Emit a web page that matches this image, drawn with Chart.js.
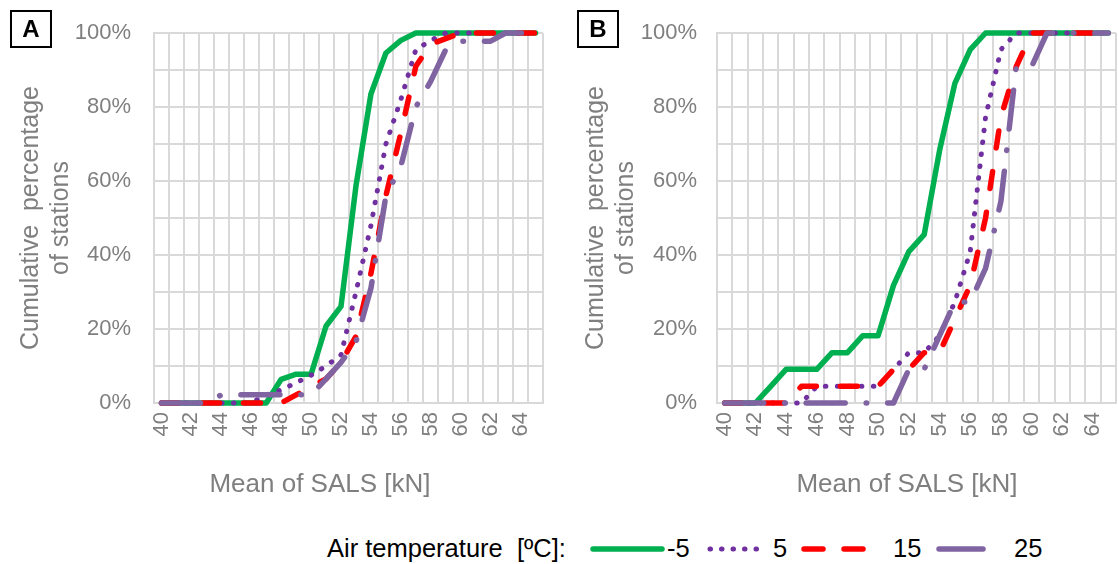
<!DOCTYPE html>
<html>
<head>
<meta charset="utf-8">
<script src="https://cdn.jsdelivr.net/npm/chart.js@4.4.1/dist/chart.umd.min.js"></script>
<style>
  html, body { margin:0; padding:0; background:#fff; }
  body { width:1118px; height:564px; position:relative; overflow:hidden; font-family:"Liberation Sans", Arial, sans-serif; }
  .cw { position:absolute; top:0; }
  .panel { position:absolute; border:2px solid #000; width:38px; height:34px; box-sizing:content-box; font-weight:bold; font-size:24px; line-height:34px; text-align:center; color:#000; }
  .xtitle { position:absolute; font-size:26px; color:#7f7f7f; white-space:pre; transform:translate(-50%,-50%); }
  .leg { position:absolute; font-size:25.5px; color:#000; white-space:pre; transform:translateY(-50%); }
  svg { position:absolute; left:0; top:0; }
</style>
</head>
<body>
<div class="cw" style="left:0;width:560px;height:470px"><canvas id="chartA" width="560" height="470"></canvas></div>
<div class="cw" style="left:560px;width:558px;height:470px"><canvas id="chartB" width="558" height="470"></canvas></div>

<div class="panel" style="left:10px;top:10px">A</div>
<div class="panel" style="left:577px;top:10px">B</div>

<div class="xtitle" style="left:320px;top:483px">Mean of SALS [kN]</div>
<div class="xtitle" style="left:907px;top:483px">Mean of SALS [kN]</div>

<div class="leg" style="left:327px;top:548px">Air temperature  [ºC]:</div>
<div class="leg" style="left:667px;top:548px">-5</div>
<div class="leg" style="left:773px;top:548px">5</div>
<div class="leg" style="left:893px;top:548px">15</div>
<div class="leg" style="left:1014px;top:548px">25</div>
<svg width="1118" height="564">
  <line x1="593" y1="549" x2="662" y2="549" stroke="#00b050" stroke-width="5.5" stroke-linecap="round"/>
  <line x1="710" y1="549" x2="767" y2="549" stroke="#7030a0" stroke-width="5" stroke-linecap="round" stroke-dasharray="0.5 11"/>
  <line x1="804" y1="549" x2="880" y2="549" stroke="#ff0000" stroke-width="5.5" stroke-linecap="round" stroke-dasharray="19 21"/>
  <line x1="939" y1="549" x2="983" y2="549" stroke="#8064a2" stroke-width="5.5" stroke-linecap="round"/>
</svg>

<script>
// ---------- data ----------
const categories = ['40','41','42','43','44','45','46','47','48','49','50','51','52','53','54','55','56','57','58','59','60','61','62','63','64','65'];
const xTickLabels = ['40','42','44','46','48','50','52','54','56','58','60','62','64'];
const yTickLabels = ['0%','20%','40%','60%','80%','100%'];
const seriesNames = ['-5','5','15','25'];

// Panel A (cumulative % of stations)
const A_minus5 = [0,0,0,0,0,0,0,0,6.4,7.8,7.8,20.8,26.1,58.7,83.5,94.6,98,100,100,100,100,100,100,100,100,100];
const A_5      = [0,0,0,0,0,0,0,2.2,3.5,5.5,7.5,10,13,30,48,70,82,95.5,98,100,100,100,100,100,100,100];
const A_15     = [0,0,0,0,0,0,0,0,0,2.2,4.4,6.5,11,18,35,56,73,91,97,98.5,100,100,100,100,100,100];
const A_25     = [0,0,0,0,2.2,2.2,2.2,2.2,2.2,2.2,2.2,6.5,11,16.5,31,56,64,80,87,95.5,97.8,97.8,97.8,100,100,100];

// Panel B
const B_minus5 = [0,0,0,4.5,9.1,9.1,9.1,13.6,13.6,18.2,18.2,31.8,40.9,45.5,68.2,86.4,95.5,100,100,100,100,100,100,100,100,100];
const B_5      = [0,0,0,0,0,0,4.5,4.5,4.5,4.5,4.5,9.1,13.6,13.6,18.2,27.3,40.9,77.3,95.5,100,100,100,100,100,100,100];
const B_15     = [0,0,0,0,0,4.5,4.5,4.5,4.5,4.5,4.5,9.1,9.1,13.6,13.6,22.7,31.8,50,77.3,90.9,100,100,100,100,100,100];
const B_25     = [0,0,0,0,0,0,0,0,0,0,0,0,9.1,9.1,18.2,27.3,27.3,36.4,54.5,90.9,90.9,100,100,100,100,100];

// ---------- styles ----------
const FONT = '"Liberation Sans", Arial, sans-serif';
const GRAY = '#7f7f7f';
const GRID = '#d9d9d9';
const styles = [
  {color:'#00b050', width:5.5, dash:[],              order:4},
  {color:'#7030a0', width:5,   dash:[0.5,11.5],      order:3},
  {color:'#ff0000', width:5.5, dash:[17,24],         order:2},
  {color:'#8064a2', width:5.5, dash:[39,21,0.5,21],  order:1}
];

function zeroPad(s) { s.paddingTop = 0; s.paddingBottom = 0; s.paddingLeft = 0; s.paddingRight = 0; }

function makeChart(id, seriesList, yAxisWidth, yTickPad, yTitlePad, rightPad) {
  const datasets = seriesList.map((d, i) => ({
    label: seriesNames[i],
    data: d,
    borderColor: styles[i].color,
    backgroundColor: styles[i].color,
    borderWidth: styles[i].width,
    borderDash: styles[i].dash,
    borderCapStyle: 'round',
    borderJoinStyle: 'round',
    pointRadius: 0,
    pointHoverRadius: 0,
    tension: 0,
    fill: false,
    clip: 12,
    order: styles[i].order
  }));
  return new Chart(document.getElementById(id), {
    type: 'line',
    data: { labels: categories, datasets },
    options: {
      responsive: false,
      animation: false,
      events: [],
      layout: { padding: { top: 33, right: rightPad, bottom: 0, left: 0 } },
      plugins: { legend: { display: false }, tooltip: { enabled: false } },
      scales: {
        x: {
          type: 'category',
          offset: true,
          grid: { offset: true, color: GRID, lineWidth: 2, drawTicks: false },
          border: { color: GRID, width: 2 },
          ticks: {
            autoSkip: false, minRotation: 90, maxRotation: 90, padding: 9,
            color: GRAY, font: { family: FONT, size: 22 },
            callback: (v, i) => xTickLabels.includes(categories[i]) ? categories[i] : ''
          },
          afterFit: s => { s.height = 67; zeroPad(s); }
        },
        y: {
          min: 0, max: 100,
          grid: { color: GRID, lineWidth: 2, drawTicks: false },
          border: { color: GRID, width: 2 },
          ticks: {
            stepSize: 10, autoSkip: false, padding: yTickPad,
            color: GRAY, font: { family: FONT, size: 22 },
            callback: v => (v % 20 === 0) ? yTickLabels[v / 20] : ''
          },
          title: {
            display: true,
            text: ['Cumulative  percentage', 'of stations'],
            color: GRAY,
            font: { family: FONT, size: 25, lineHeight: 1.2 },
            padding: { top: yTitlePad, bottom: 0 }
          },
          afterFit: s => { s.width = yAxisWidth; zeroPad(s); }
        }
      }
    }
  });
}

makeChart('chartA', [A_minus5, A_5, A_15, A_25], 154, 23, 16, 17);
makeChart('chartB', [B_minus5, B_5, B_15, B_25], 157, 20, 21, 2);
</script>
</body>
</html>
